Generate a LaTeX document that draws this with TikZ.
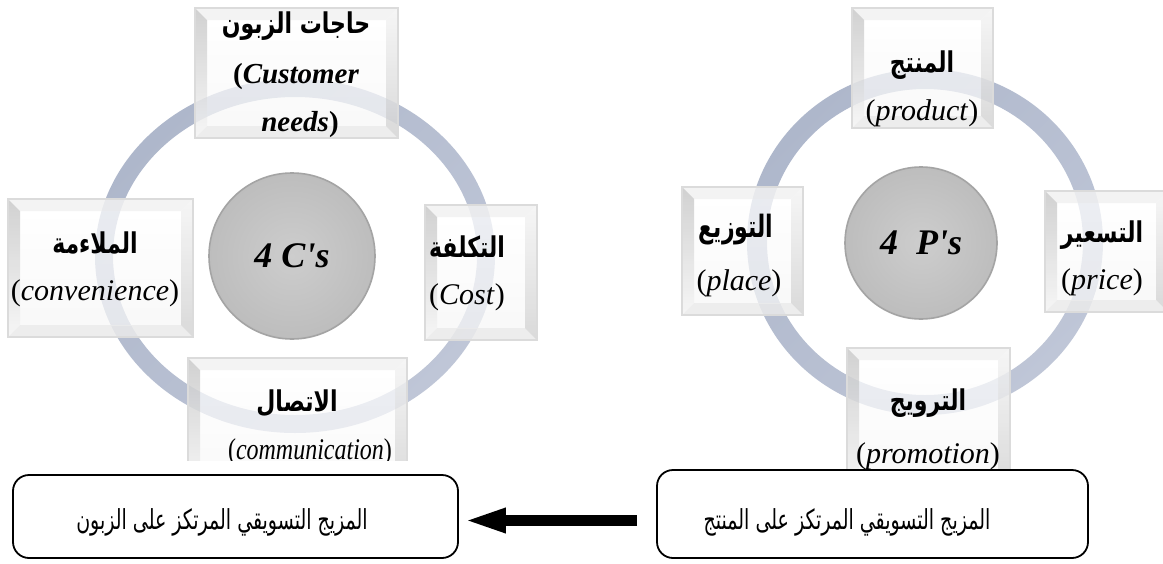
\documentclass[tikz,border=0pt]{standalone}
\usepackage{fontspec}
\setmainfont{Liberation Serif}[Ligatures=TeXOff]
\newfontfamily\arabicfont[Script=Arabic]{DejaVu Sans}
\TeXXeTstate=1
\usetikzlibrary{calc,arrows.meta}

\definecolor{ringdark}{HTML}{AEB7CB}
\definecolor{ringmid}{HTML}{BFC6D7}
\definecolor{ringlight}{HTML}{EAEDF3}
\definecolor{hubin}{HTML}{CDCDCD}
\definecolor{hubout}{HTML}{BDBDBD}
\definecolor{hubrim}{HTML}{A4A4A4}

% glass ring: centre x, centre y, outer x radius, outer y radius, thickness
\newcommand\glassring[5]{%
  \shade[even odd rule, top color=ringdark, middle color=ringlight,
         bottom color=ringmid, shading angle=45]
    (#1,#2) ellipse [x radius=#3, y radius=#4]
    (#1,#2) ellipse [x radius=#3-#5, y radius=#4-#5];
}

% bevelled translucent tile: name, x1, y1, x2, y2
\newcommand\bevelbox[5]{%
  \node[tile, minimum width={(#4-#2)*1pt}, minimum height={(#5-#3)*1pt}]
    (#1) at ({(#2+#4)/2},{(#3+#5)/2}) {};
  \coordinate (#1-a) at ($(#1.north west)+(12,12)$);
  \coordinate (#1-b) at ($(#1.north east)+(-12,12)$);
  \coordinate (#1-c) at ($(#1.south east)+(-12,-12)$);
  \coordinate (#1-d) at ($(#1.south west)+(12,-12)$);
  \shade[top color=white, bottom color=gray!6, fill opacity=0.72]
    (#1-a) rectangle (#1-c);
  \fill[gray!10, fill opacity=0.85]
    (#1.north west) -- (#1.north east) -- (#1-b) -- (#1-a) -- cycle;
  \shade[top color=gray!42, bottom color=gray!8, fill opacity=0.85]
    (#1.north west) -- (#1-a) -- (#1-d) -- (#1.south west) -- cycle;
  \fill[gray!16, fill opacity=0.85]
    (#1.south west) -- (#1-d) -- (#1-c) -- (#1.south east) -- cycle;
  \shade[top color=gray!8, bottom color=gray!34, fill opacity=0.85]
    (#1.north east) -- (#1.south east) -- (#1-c) -- (#1-b) -- cycle;
  \draw[gray!28, line width=1.5pt] (#1.south west) rectangle (#1.north east);
}

\newcommand\up[1]{\textup{#1}}
% right-to-left Arabic run, set a little taller than the font's own proportions
\newcommand\artxt[2][1.3]{\scalebox{1}[#1]{\beginR #2\endR}}

\begin{document}
\begin{tikzpicture}[x=1pt, y=-1pt,
  tile/.style={inner sep=0pt, outer sep=0pt},
  hub/.style={circle, inner sep=0pt, inner color=hubin, outer color=hubout,
              draw=hubrim, line width=1.6pt,
              font=\bfseries\itshape\fontsize{36pt}{40pt}\selectfont},
  arlab/.style={inner sep=0pt, font=\arabicfont\bfseries\fontsize{22pt}{26pt}\selectfont},
  latlab/.style={inner sep=0pt, font=\itshape\fontsize{30pt}{34pt}\selectfont},
  latbold/.style={inner sep=0pt, font=\bfseries\itshape\fontsize{29pt}{33pt}\selectfont},
  mixbox/.style={draw, fill=white, line width=1.8pt, rounded corners=16pt,
                 inner sep=0pt},
  mixtext/.style={inner sep=0pt, font=\arabicfont\fontsize{19pt}{24pt}\selectfont},
  bigarrow/.style={line width=11pt, -{Triangle[length=43pt, width=22pt]}}
]
\useasboundingbox (0,0) rectangle (1163,563);
\fill[white] (0,0) rectangle (1163,563);
\clip (0,0) rectangle (1163,563);

% ---- customer-oriented mix (4 C's) ----
\begin{scope}
  \clip (0,0) rectangle (620,460);
  \glassring{295}{256}{200}{177}{18}
  \bevelbox{needs}{195}{8}{398}{138}
  \bevelbox{conv}{8}{199}{193}{337}
  \bevelbox{cost}{425}{205}{537}{340}
  \bevelbox{comm}{188}{358}{407}{490}
  \node[hub, minimum size=166pt] (cs) at (292,256) {4 C's};

  \node[arlab] (needs-ar) at (296,26) {\artxt{حاجات الزبون}};
  \node[latbold] (needs-l1) at (296,77) {\up{(}Customer};
  \node[latbold] (needs-l2) at (300,125) {needs\up{)}};
  \node[arlab] (conv-ar) at (95,243) {\artxt{الملاءمة}};
  \node[latlab] (conv-l) at (95,293) {\up{(}convenience\up{)}};
  \node[arlab] (cost-ar) at (467,247) {\artxt{التكلفة}};
  \node[latlab] (cost-l) at (467,297) {\up{(}Cost\up{)}};
  \node[arlab] (comm-ar) at (297,403) {\artxt{الاتصال}};
  \node[latlab] (comm-l) at (310,452) {\scalebox{0.8}[1]{\up{(}communication\up{)}}};
\end{scope}

% ---- product-oriented mix (4 P's) ----
\begin{scope}
  \clip (620,0) rectangle (1163,470);
  \glassring{925}{242}{178}{173}{20}
  \bevelbox{prod}{852}{8}{993}{128}
  \bevelbox{place}{682}{187}{803}{315}
  \bevelbox{price}{1045}{191}{1168}{312}
  \bevelbox{promo}{847}{348}{1010}{490}
  \node[hub, minimum size=152pt] (ps) at (921,243) {4\hspace{0.5em}P's};

  \node[arlab] (prod-ar) at (922,65) {\artxt{المنتج}};
  \node[latlab] (prod-l) at (922,113) {\up{(}product\up{)}};
  \node[arlab] (place-ar) at (736,230) {\artxt[1.4]{التوزيع}};
  \node[latlab] (place-l) at (739,283) {\up{(}place\up{)}};
  \node[arlab] (price-ar) at (1102,235) {\artxt{التسعير}};
  \node[latlab] (price-l) at (1102,282) {\up{(}price\up{)}};
  \node[arlab] (promo-ar) at (928,403) {\artxt{الترويج}};
  \node[latlab] (promo-l) at (928,456) {\up{(}promotion\up{)}};
\end{scope}

% ---- shift from product-centred to customer-centred mix ----
\node[mixbox, minimum width=445pt, minimum height=83pt] (cmix) at (235.5,516.5) {};
\node[mixbox, minimum width=431pt, minimum height=88pt] (pmix) at (872.5,514) {};
\node[mixtext] (cmix-t) at (222,522) {\artxt[1.45]{المزيج التسويقي المرتكز على الزبون}};
\node[mixtext] (pmix-t) at (847,522) {\artxt[1.45]{المزيج التسويقي المرتكز على المنتج}};
\draw[bigarrow, shorten <=19pt, shorten >=4pt]
  ($(pmix.west)+(0,6.5)$) -- ($(cmix.east)+(0,4)$);
\end{tikzpicture}
\end{document}
